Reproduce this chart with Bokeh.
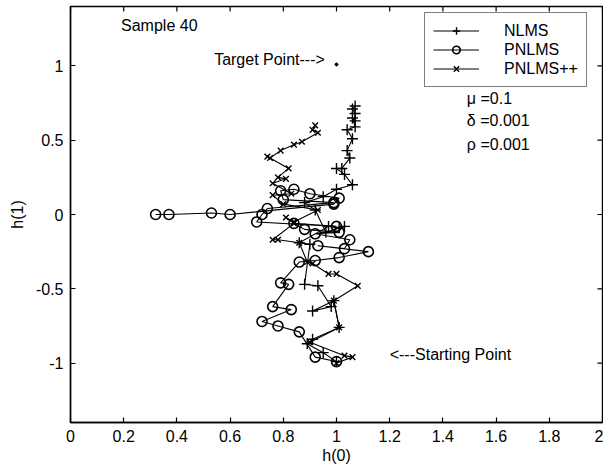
from bokeh.plotting import figure
from bokeh.models import Range1d, FixedTicker, Legend, LegendItem, Label
from bokeh.embed import file_html
from bokeh.resources import INLINE

# ---- data ----
nlms_x = [1.00, 0.95, 0.89, 0.91, 1.01, 0.99, 0.91, 0.98, 0.93, 0.88, 0.90, 0.86, 0.97, 1.01, 1.03, 0.96,
          0.92, 0.88, 0.95, 1.00, 1.06, 1.03, 1.00, 1.02, 1.05, 1.04, 1.06, 1.04, 1.07, 1.06, 1.07, 1.07, 1.06, 1.07]
nlms_y = [-0.99, -0.93, -0.87, -0.84, -0.76, -0.58, -0.65, -0.62, -0.48, -0.47, -0.20, -0.19, -0.08, -0.09, -0.08, -0.12,
          0.03, 0.08, 0.12, 0.17, 0.20, 0.27, 0.31, 0.31, 0.38, 0.43, 0.51, 0.57, 0.59, 0.65, 0.63, 0.68, 0.71, 0.73]

pnlms_x = [1.00, 0.92, 0.86, 0.78, 0.72, 0.83, 0.76, 0.82, 0.79, 0.86, 0.92, 1.01, 1.12, 0.93, 1.03, 1.05,
           0.92, 1.01, 0.88, 0.84, 1.00, 0.70, 0.72, 0.74, 0.99, 0.80, 0.79, 0.84, 0.90, 1.01, 0.99, 0.60,
           0.53, 0.37, 0.32]
pnlms_y = [-0.99, -0.96, -0.79, -0.75, -0.72, -0.64, -0.62, -0.47, -0.46, -0.32, -0.31, -0.29, -0.25, -0.21, -0.23, -0.17,
           -0.13, -0.12, -0.10, -0.06, -0.08, -0.05, 0.00, 0.04, 0.08, 0.10, 0.16, 0.17, 0.14, 0.11, 0.07, 0.00,
           0.01, 0.00, 0.00]

pp_x = [1.00, 1.06, 1.03, 0.90, 1.01, 0.99, 1.08, 1.00, 0.97, 0.91, 0.89, 0.86, 0.78, 0.76, 0.84, 0.81,
        0.84, 0.93, 0.80, 0.76, 0.83, 0.76, 0.81, 0.78, 0.82, 0.74, 0.75, 0.79, 0.84, 0.87, 0.93, 0.91, 0.92]
pp_y = [-1.00, -0.96, -0.95, -0.86, -0.76, -0.58, -0.48, -0.40, -0.40, -0.33, -0.32, -0.19, -0.17, -0.17, -0.06, -0.02,
        -0.05, 0.03, 0.07, 0.13, 0.14, 0.21, 0.24, 0.25, 0.31, 0.39, 0.38, 0.43, 0.47, 0.49, 0.55, 0.57, 0.60]

target_x = [1.0]
target_y = [1.01]

x_ticks = [0, 0.2, 0.4, 0.6, 0.8, 1, 1.2, 1.4, 1.6, 1.8, 2]
x_tick_labels = ["0", "0.2", "0.4", "0.6", "0.8", "1", "1.2", "1.4", "1.6", "1.8", "2"]
y_ticks = [-1, -0.5, 0, 0.5, 1]
y_tick_labels = ["-1", "-0.5", "0", "0.5", "1"]

XMIN, XMAX = 0, 2
YMIN, YMAX = -1.4, 1.4

FONT = "Liberation Sans"
FS = "16px"

p = figure(width=603, height=466,
           x_range=Range1d(XMIN, XMAX), y_range=Range1d(YMIN, YMAX),
           output_backend="svg", toolbar_location=None,
           min_border_left=70, min_border_top=6, min_border_right=1, min_border_bottom=40)
p.background_fill_color = "white"
p.border_fill_color = "white"
p.outline_line_color = "black"
p.outline_line_width = 1.4
p.xgrid.visible = False
p.ygrid.visible = False


def style_axis(ax, ticks, labels):
    ax.ticker = FixedTicker(ticks=ticks)
    ax.major_label_overrides = {t: l for t, l in zip(ticks, labels)}
    ax.major_tick_in = 5
    ax.major_tick_out = 0
    ax.minor_tick_line_color = None
    ax.axis_line_color = "black"
    ax.axis_line_width = 1.4
    ax.major_tick_line_color = "black"
    ax.major_tick_line_width = 1.2
    ax.major_label_text_font = FONT
    ax.major_label_text_color = "black"
    ax.major_label_text_font_size = FS
    ax.axis_label_text_font = FONT
    ax.axis_label_text_font_size = FS
    ax.axis_label_text_font_style = "normal"
    ax.axis_label_text_color = "black"


style_axis(p.xaxis[0], x_ticks, x_tick_labels)
style_axis(p.yaxis[0], y_ticks, y_tick_labels)
p.xaxis.axis_label = "h(0)"
p.yaxis.axis_label = "h(1)"
p.xaxis[0].major_label_standoff = 7
p.xaxis[0].axis_label_standoff = 2
p.yaxis[0].major_label_standoff = 7
p.yaxis[0].axis_label_standoff = 7

# inward ticks on top and right edges of the box (from the same tick lists)
tlx = 5 / 266
tly = 5 / 150
p.segment(x0=x_ticks, y0=[YMAX] * len(x_ticks), x1=x_ticks, y1=[YMAX - tly] * len(x_ticks),
          line_color="black", line_width=1.2)
p.segment(x0=[XMAX] * len(y_ticks), y0=y_ticks, x1=[XMAX - tlx] * len(y_ticks), y1=y_ticks,
          line_color="black", line_width=1.2)

# ---- series ----
l1 = p.line(nlms_x, nlms_y, line_color="black", line_width=1.1)
m1 = p.scatter(nlms_x, nlms_y, marker="cross", size=11, line_color="black", line_width=1.4)

l2 = p.line(pnlms_x, pnlms_y, line_color="black", line_width=1.1)
m2 = p.scatter(pnlms_x, pnlms_y, marker="circle", size=10, fill_color=None, line_color="black", line_width=1.6)

l3 = p.line(pp_x, pp_y, line_color="black", line_width=1.1)
m3 = p.scatter(pp_x, pp_y, marker="x", size=8, line_color="black", line_width=1.4)

p.scatter(target_x, target_y, marker="asterisk", size=4, line_color="black", line_width=1)

# ---- annotations ----
def add_text(x, y, txt, size=FS):
    p.add_layout(Label(x=x, y=y, text=txt, text_font=FONT, text_font_size=size,
                       text_color="black", text_baseline="middle", text_align="left"))

add_text(0.19, 1.27, "Sample 40")
add_text(0.54, 1.04, "Target Point--->")
add_text(1.20, -0.94, "<---Starting Point")
add_text(1.49, 0.78, "\u03bc =0.1")
add_text(1.49, 0.63, "\u03b4 =0.001")
add_text(1.49, 0.47, "\u03c1 =0.001")

legend = Legend(items=[
    LegendItem(label="NLMS", renderers=[l1, m1]),
    LegendItem(label="PNLMS", renderers=[l2, m2]),
    LegendItem(label="PNLMS++", renderers=[l3, m3]),
], location=(354, 335))
legend.border_line_color = "black"
legend.border_line_width = 1.4
legend.background_fill_color = "white"
legend.background_fill_alpha = 1
legend.label_text_font = FONT
legend.label_text_font_size = FS
legend.label_text_color = "black"
legend.glyph_width = 46
legend.glyph_height = 19
legend.label_height = 19
legend.label_standoff = 25
legend.spacing = 0
legend.padding = 8
legend.margin = 0
legend.label_text_baseline = "middle"
p.add_layout(legend, "center")

open("out.html", "w").write(file_html(p, INLINE))
